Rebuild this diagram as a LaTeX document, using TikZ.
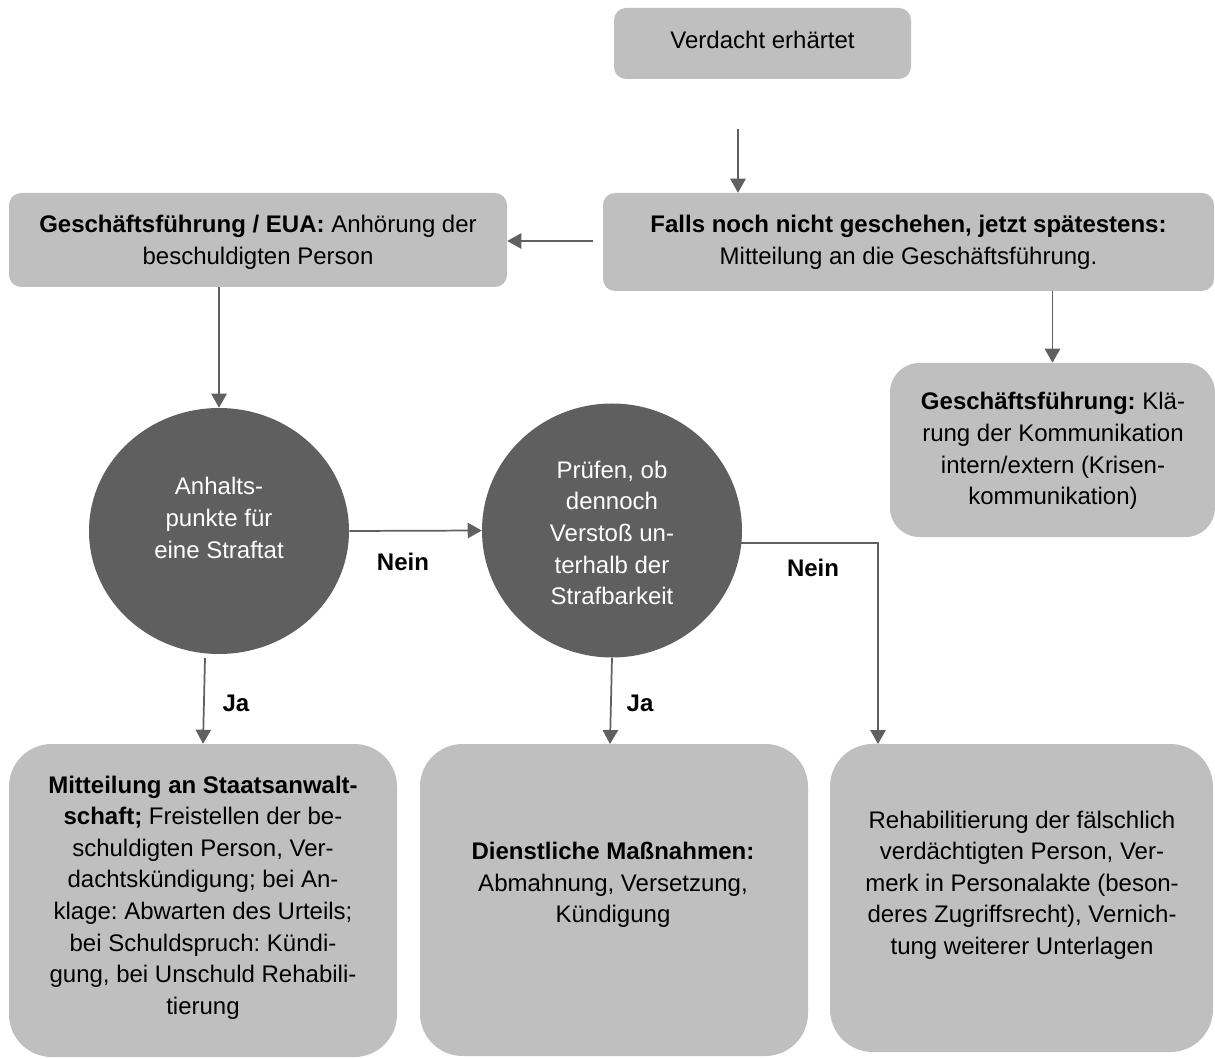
\documentclass[tikz,border=0pt]{standalone}
\usepackage{fontspec}
\setmainfont{Liberation Sans}
\usetikzlibrary{arrows.meta,shapes.geometric}
\definecolor{boxgray}{HTML}{BFBFBF}
\definecolor{circgray}{HTML}{5F5F5F}
\definecolor{arrgray}{HTML}{606060}
\frenchspacing
\begin{document}
\begin{tikzpicture}[x=0.75pt,y=-0.75pt,
  box/.style={fill=boxgray, draw=none, rounded corners=9pt, inner sep=0pt},
  bigbox/.style={box, rounded corners=32pt},
  midbox/.style={box, rounded corners=22pt},
  circ/.style={ellipse, fill=circgray, draw=none, inner sep=0pt},
  txt/.style={align=center, inner sep=0pt, text=black, font=\fontsize{18}{23.7}\selectfont},
  wtxt/.style={txt, text=white},
  lbl/.style={inner sep=0pt, font=\fontsize{18}{23.7}\selectfont\bfseries},
  arr/.style={draw=arrgray, line width=1.3pt, -{Triangle[width=11.5pt,length=10.5pt]}}]
\useasboundingbox (0,0) rectangle (1215,1059);

% boxes
\node[box, minimum width=222.75pt, minimum height=53.25pt] (top) at (762.5,43.5) {};
\node[box, minimum width=458.25pt, minimum height=73.5pt] (falls) at (908.5,242) {};
\node[box, minimum width=373.5pt, minimum height=70.5pt] (eua) at (258,240) {};
\node[midbox, minimum width=243.75pt, minimum height=130.5pt] (kla) at (1052.5,450) {};
\node[circ, minimum width=195pt, minimum height=184.5pt] (c1) at (219,531) {};
\node[circ, minimum width=195pt, minimum height=190.5pt] (c2) at (612,530.5) {};
\node[bigbox, minimum width=291pt, minimum height=234.75pt] (bl) at (203,900.5) {};
\node[bigbox, minimum width=291pt, minimum height=234pt] (bm) at (614,900) {};
\node[bigbox, minimum width=287.25pt, minimum height=231pt] (br) at (1021.5,898) {};

% texts
\node[txt] (ttop) at (762.5,40) {Verdacht erhärtet};
\node[txt] (tfalls) at (908.5,242) {\textbf{Falls noch nicht geschehen, jetzt spätestens:}\\Mitteilung an die Geschäftsführung.};
\node[txt] (teua) at (258,242) {\textbf{Geschäftsführung / EUA:} Anhörung der\\beschuldigten Person};
\node[txt] (tkla) at (1053,451) {\textbf{Geschäftsführung:} Klä-\\rung der Kommunikation\\intern/extern (Krisen-\\kommunikation)};
\node[wtxt] (tc1) at (219,518) {Anhalts-\\punkte für\\eine Straftat};
\node[wtxt] (tc2) at (612,533) {Prüfen, ob\\dennoch\\Verstoß un-\\terhalb der\\Strafbarkeit};
\node[txt] (tbl) at (203,897.5) {\textbf{Mitteilung an Staatsanwalt-}\\\textbf{schaft;} Freistellen der be-\\schuldigten Person, Ver-\\dachtskündigung; bei An-\\klage: Abwarten des Urteils;\\bei Schuldspruch: Kündi-\\gung, bei Unschuld Rehabili-\\tierung};
\node[txt] (tbm) at (613,885) {\textbf{Dienstliche Maßnahmen:}\\Abmahnung, Versetzung,\\Kündigung};
\node[txt] (tbr) at (1022,885) {Rehabilitierung der fälschlich\\verdächtigten Person, Ver-\\merk in Personalakte (beson-\\deres Zugriffsrecht), Vernich-\\tung weiterer Unterlagen};

% connectors
\coordinate (a1s) at (738,129);
\draw[arr] (a1s) -- (a1s |- falls.north);
\coordinate (a2s) at (593,241);
\draw[arr] (a2s) -- (a2s -| eua.east);
\draw[arr] (falls.south -| kla.north) -- (kla.north);
\draw[arr] (eua.south -| c1.north) -- (c1.north);
\draw[arr] (c1.east) -- (c2.west);
\coordinate (j1s) at (205,658);
\draw[arr] (j1s) -- (bl.north);
\coordinate (j2e) at (610,744);
\draw[arr] (c2.south) -- (j2e);
\coordinate (n2s) at (741,543);
\coordinate (n2e) at (878,744);
\draw[arr] (n2s) -| (n2e);

% labels
\node[lbl] (nein1) at (403,562) {Nein};
\node[lbl] (nein2) at (813,568) {Nein};
\node[lbl] (ja1) at (236,703) {Ja};
\node[lbl] (ja2) at (640,703) {Ja};
\end{tikzpicture}
\end{document}
